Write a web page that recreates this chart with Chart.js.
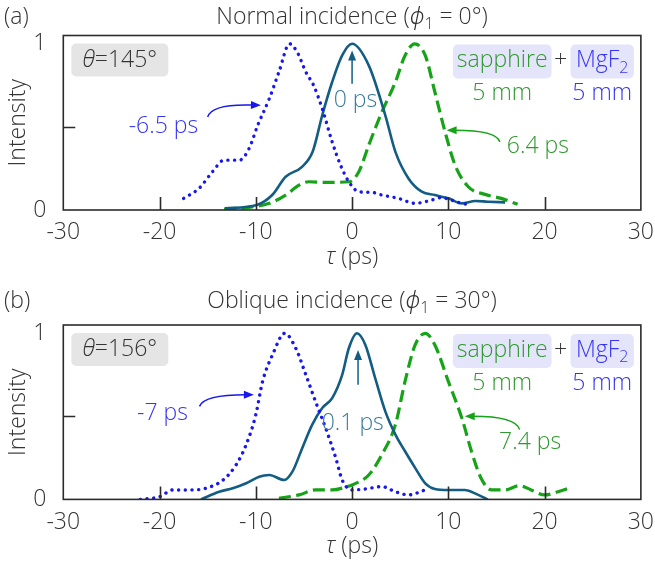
<!DOCTYPE html>
<html>
<head>
<meta charset="utf-8">
<script src="https://cdn.jsdelivr.net/npm/chart.js@4.4.1/dist/chart.umd.min.js"></script>
<style>
  body { margin: 0; background: #fff; width: 655px; height: 567px; overflow: hidden; }
  canvas { position: absolute; left: 0; }
  #chartA { top: 0; }
  #chartB { top: 284px; }
</style>
</head>
<body>
<canvas id="chartA" width="655" height="284"></canvas>
<canvas id="chartB" width="655" height="283"></canvas>
<script>
// axis ticks
const xTickValues = [-30, -20, -10, 0, 10, 20, 30];
const xInnerTicks = [-20, -10, 0, 10, 20];
const yTickValues = [0, 0.5, 1];

// (a) normal incidence
const aSolidX = [-13.2, -9.9, -8.3, -6.9, -5.2, -4.1, -3.1, -2.07, -1.03, 0, 1.73, 3.45, 4.5, 5.86, 7.24, 8.6, 10, 11.4, 12.8, 14.1, 15.9];
const aSolidY = [0.01, 0.03, 0.09, 0.2, 0.26, 0.35, 0.57, 0.77, 0.93, 1.0, 0.87, 0.57, 0.35, 0.19, 0.11, 0.09, 0.07, 0.04, 0.054, 0.05, 0.046];
const aDotX = [-17.5, -15.9, -14.5, -13.3, -11.7, -10.7, -9.8, -8.6, -7.6, -6.5, -5.7, -4.8, -4.0, -3.1, -2.07, -1.2, -0.34, 0.7, 2.07, 3.1, 4.8, 6.55, 7.9, 9.3, 10.3, 11.4, 12.4];
const aDotY = [0.07, 0.13, 0.23, 0.3, 0.3, 0.37, 0.51, 0.67, 0.83, 1.0, 0.95, 0.83, 0.75, 0.61, 0.41, 0.27, 0.17, 0.11, 0.106, 0.09, 0.07, 0.04, 0.054, 0.074, 0.06, 0.04, 0.03];
const aDashX = [-13.3, -11, -8.6, -6.9, -5.5, -4.5, -2.75, -0.3, 0.7, 1.73, 3.1, 4.5, 5.5, 6.5, 7.6, 8.6, 9.66, 10.7, 12.07, 13.8, 15.5, 17.2];
const aDashY = [0.006, 0.014, 0.04, 0.09, 0.15, 0.17, 0.166, 0.17, 0.23, 0.39, 0.59, 0.77, 0.93, 1.0, 0.93, 0.71, 0.47, 0.27, 0.14, 0.094, 0.07, 0.034];

// (b) oblique incidence
const bSolidX = [-15.7, -13.8, -12.4, -11, -9.65, -8.6, -7.06, -6.2, -5.17, -4.14, -3.1, -2.07, -1.03, -0.34, 0.5, 1.38, 2.4, 3.45, 4.5, 5.5, 6.55, 7.6, 8.6, 10, 11.7, 13.1, 14.1];
const bSolidY = [0, 0.046, 0.067, 0.097, 0.137, 0.147, 0.117, 0.167, 0.31, 0.45, 0.55, 0.61, 0.75, 0.91, 1.0, 0.93, 0.73, 0.53, 0.39, 0.29, 0.19, 0.097, 0.063, 0.057, 0.057, 0.027, 0];
const bDotX = [-22, -20, -18.6, -16.9, -15.2, -13.4, -12.06, -11, -10, -9.3, -8.27, -7, -5.85, -4.8, -3.8, -2.75, -1.7, -1.03, 0, 1.38, 3.1, 4.5, 5.86, 7.6];
const bDotY = [0, 0.016, 0.057, 0.057, 0.067, 0.117, 0.207, 0.33, 0.51, 0.71, 0.87, 1.0, 0.91, 0.75, 0.59, 0.43, 0.25, 0.117, 0.057, 0.063, 0.077, 0.046, 0.027, 0.057];
const bDashX = [-7.6, -5.5, -3.8, -2.07, -0.5, 0, 1.73, 3.1, 4.5, 5.5, 6.55, 7.6, 8.6, 10, 11.4, 12.4, 13.4, 14.5, 15.9, 17.4, 18.6, 20, 21.4, 22.6];
const bDashY = [0.007, 0.027, 0.057, 0.057, 0.077, 0.087, 0.147, 0.27, 0.45, 0.71, 0.93, 1.0, 0.93, 0.71, 0.49, 0.29, 0.127, 0.057, 0.057, 0.083, 0.057, 0.027, 0.046, 0.07];

const FONT = "'Open Sans', sans-serif";
const PHI_FONT = "'Noto Sans', 'DejaVu Sans', sans-serif";
const FS = 23;
const TEXT = '#333';
const TEAL = '#135d84';
const BLUE = '#1717ee';
const GREEN = '#17a317';
const TEAL_T = '#3a7a9c';
const BLUE_T = '#3434f4';
const GREEN_T = '#2e992e';

function pts(xs, ys) {
  return xs.map((x, i) => ({ x: x, y: ys[i] }));
}

function fontOf(p) {
  const size = p.sub ? Math.round(p.s * 0.68) : p.s;
  return (p.i ? 'italic ' : '') + '300 ' + size + 'px ' + (p.f || FONT);
}

// draws a row of text pieces (italic / subscript), centered or left aligned
function richText(ctx, parts, x, y, align) {
  let total = 0;
  parts.forEach(p => { ctx.font = fontOf(p); p.w = ctx.measureText(p.t).width; total += p.w; });
  let cx = align === 'left' ? x : x - total / 2;
  ctx.textAlign = 'left';
  ctx.textBaseline = 'middle';
  parts.forEach(p => {
    ctx.font = fontOf(p);
    ctx.fillStyle = p.c || TEXT;
    ctx.fillText(p.t, cx, y + (p.sub ? p.s * 0.33 : 0));
    cx += p.w;
  });
  return total;
}

function roundRect(ctx, x, y, w, h, r, fill) {
  ctx.beginPath();
  ctx.moveTo(x + r, y);
  ctx.arcTo(x + w, y, x + w, y + h, r);
  ctx.arcTo(x + w, y + h, x, y + h, r);
  ctx.arcTo(x, y + h, x, y, r);
  ctx.arcTo(x, y, x + w, y, r);
  ctx.closePath();
  ctx.fillStyle = fill;
  ctx.fill();
}

function arrow(ctx, x0, y0, cx, cy, x1, y1, color) {
  ctx.strokeStyle = color;
  ctx.fillStyle = color;
  ctx.lineWidth = 1.5;
  const ang = Math.atan2(y1 - cy, x1 - cx);
  const hl = 10, hw = 4;
  const bx = x1 - hl * 0.8 * Math.cos(ang), by = y1 - hl * 0.8 * Math.sin(ang);
  ctx.beginPath();
  ctx.moveTo(x0, y0);
  ctx.quadraticCurveTo(cx, cy, bx, by);
  ctx.stroke();
  ctx.beginPath();
  ctx.moveTo(x1, y1);
  ctx.lineTo(x1 - hl * Math.cos(ang) + hw * Math.sin(ang), y1 - hl * Math.sin(ang) - hw * Math.cos(ang));
  ctx.lineTo(x1 - hl * Math.cos(ang) - hw * Math.sin(ang), y1 - hl * Math.sin(ang) + hw * Math.cos(ang));
  ctx.closePath();
  ctx.fill();
}

function makePanel(id, p) {
  const deco = {
    id: 'deco' + id,
    afterDatasetsDraw(chart) {
      const { ctx, chartArea: ca, scales: { x, y } } = chart;
      ctx.save();
      // frame + inward ticks
      ctx.strokeStyle = '#2b2b2b';
      ctx.lineWidth = 1.6;
      ctx.strokeRect(ca.left, ca.top, ca.right - ca.left, ca.bottom - ca.top);
      ctx.beginPath();
      xInnerTicks.forEach(v => {
        const px = Math.round(x.getPixelForValue(v)) + 0.5;
        ctx.moveTo(px, ca.bottom);
        ctx.lineTo(px, ca.bottom - 13);
      });
      const py = Math.round(y.getPixelForValue(0.5)) + 0.5;
      ctx.moveTo(ca.left, py);
      ctx.lineTo(ca.left + 12, py);
      ctx.stroke();

      // panel letter and title
      richText(ctx, [{ t: p.letter, s: FS }], 4, p.titleY, 'left');
      richText(ctx, [
        { t: p.title, s: FS },
        { t: 'ϕ', s: FS, i: true, f: PHI_FONT },
        { t: '1', s: FS, sub: true },
        { t: p.titleEnd, s: FS }
      ], (ca.left + ca.right) / 2, p.titleY);
      // x title
      richText(ctx, [{ t: 'τ', s: FS, i: true }, { t: ' (ps)', s: FS }], (ca.left + ca.right) / 2, ca.bottom + 47);

      // theta box
      roundRect(ctx, ca.left + 8, ca.top + 8, 97, 33, 5, '#e5e5e5');
      richText(ctx, [{ t: 'θ', s: FS, i: true }, { t: p.theta, s: FS }], ca.left + 56.5, ca.top + 24.5);

      // crystal boxes
      ctx.font = '300 ' + FS + 'px ' + FONT;
      const w1 = ctx.measureText('sapphire').width + 8;
      const w2 = ctx.measureText('MgF').width + 20;
      const bTop = ca.top + 9;
      const mgRight = ca.right - 7;
      roundRect(ctx, mgRight - w2, bTop, w2, 34, 5, '#e4e4fa');
      const plusX = mgRight - w2 - 10;
      roundRect(ctx, plusX - 9 - w1, bTop, w1, 34, 5, '#e4e4fa');
      richText(ctx, [{ t: 'sapphire', s: FS, c: GREEN_T }], plusX - 9 - w1 / 2, bTop + 16);
      richText(ctx, [{ t: '+', s: FS }], plusX, bTop + 16);
      richText(ctx, [{ t: 'MgF', s: FS, c: BLUE_T }, { t: '2', s: FS, sub: true, c: BLUE_T }], mgRight - w2 / 2, bTop + 16);
      richText(ctx, [{ t: '5 mm', s: FS, c: GREEN_T }], plusX - 9 - w1 / 2, bTop + 49);
      richText(ctx, [{ t: '5 mm', s: FS, c: BLUE_T }], mgRight - w2 / 2, bTop + 49);

      // delay labels and arrows
      p.labels.forEach(l => {
        richText(ctx, [{ t: l.t, s: FS, c: l.c }], x.getPixelForValue(l.x), y.getPixelForValue(l.y));
      });
      p.arrows.forEach(a => {
        arrow(ctx,
          x.getPixelForValue(a.from[0]), y.getPixelForValue(a.from[1]),
          x.getPixelForValue(a.ctrl[0]), y.getPixelForValue(a.ctrl[1]),
          x.getPixelForValue(a.to[0]), y.getPixelForValue(a.to[1]), a.c);
      });
      ctx.restore();
    }
  };

  const line = { showLine: true, pointRadius: 0, cubicInterpolationMode: 'monotone', fill: false };
  return new Chart(document.getElementById(id), {
    type: 'scatter',
    data: {
      datasets: [
        Object.assign({ data: pts(p.dotX, p.dotY), borderColor: BLUE, borderWidth: 3.4, borderDash: [0.1, 6.6], borderCapStyle: 'round' }, line),
        Object.assign({ data: pts(p.solidX, p.solidY), borderColor: TEAL, borderWidth: 2.6 }, line),
        Object.assign({ data: pts(p.dashX, p.dashY), borderColor: GREEN, borderWidth: 3.2, borderDash: [12, 5.5] }, line)
      ]
    },
    options: {
      responsive: false,
      animation: false,
      devicePixelRatio: 1,
      layout: { padding: { top: p.top, right: 11.7, bottom: 0, left: 0 } },
      plugins: { legend: { display: false }, tooltip: { enabled: false } },
      scales: {
        x: {
          type: 'linear', min: -30, max: 30,
          afterBuildTicks: s => { s.ticks = xTickValues.map(v => ({ value: v })); },
          afterFit: s => { s.height = p.xAxisH; },
          ticks: { color: TEXT, font: { family: FONT, size: FS, weight: 300 }, padding: 1, maxRotation: 0 },
          grid: { display: false },
          border: { display: false }
        },
        y: {
          min: 0, max: 1.05,
          afterBuildTicks: s => { s.ticks = yTickValues.map(v => ({ value: v })); },
          afterFit: s => { s.width = 63.3; },
          ticks: { color: TEXT, font: { family: FONT, size: FS, weight: 300 }, padding: 9, callback: v => (v === 0.5 ? '' : v) },
          grid: { display: false },
          border: { display: false },
          title: { display: true, text: 'Intensity', color: TEXT, font: { family: FONT, size: FS, weight: 300 }, padding: { top: 5 } }
        }
      }
    },
    plugins: [deco]
  });
}

makePanel('chartA', {
  letter: '(a)', title: 'Normal incidence (', titleEnd: ' = 0°)', titleY: 17, theta: '=145°',
  top: 35.5, xAxisH: 74,
  solidX: aSolidX, solidY: aSolidY, dotX: aDotX, dotY: aDotY, dashX: aDashX, dashY: aDashY,
  labels: [
    { t: '-6.5 ps', x: -19.6, y: 0.5, c: BLUE_T },
    { t: '0 ps', x: 0.35, y: 0.66, c: TEAL_T },
    { t: '6.4 ps', x: 19.3, y: 0.38, c: GREEN_T }
  ],
  arrows: [
    { from: [-15.0, 0.56], ctrl: [-14.6, 0.64], to: [-9.47, 0.63], c: BLUE },
    { from: [0, 0.76], ctrl: [0, 0.85], to: [0, 0.96], c: TEAL },
    { from: [15.35, 0.41], ctrl: [15.0, 0.48], to: [9.82, 0.48], c: GREEN }
  ]
});

makePanel('chartB', {
  letter: '(b)', title: 'Oblique incidence (', titleEnd: ' = 30°)', titleY: 17, theta: '=156°',
  top: 41, xAxisH: 67.6,
  solidX: bSolidX, solidY: bSolidY, dotX: bDotX, dotY: bDotY, dashX: bDashX, dashY: bDashY,
  labels: [
    { t: '-7 ps', x: -19.7, y: 0.52, c: BLUE_T },
    { t: '0.1 ps', x: 0.07, y: 0.46, c: TEAL_T },
    { t: '7.4 ps', x: 18.5, y: 0.34, c: GREEN_T }
  ],
  arrows: [
    { from: [-15.85, 0.56], ctrl: [-15.4, 0.63], to: [-10.2, 0.63], c: BLUE },
    { from: [0.62, 0.69], ctrl: [0.62, 0.79], to: [0.62, 0.9], c: TEAL },
    { from: [17.4, 0.42], ctrl: [17.0, 0.5], to: [11.7, 0.5], c: GREEN }
  ]
});
</script>
</body>
</html>
